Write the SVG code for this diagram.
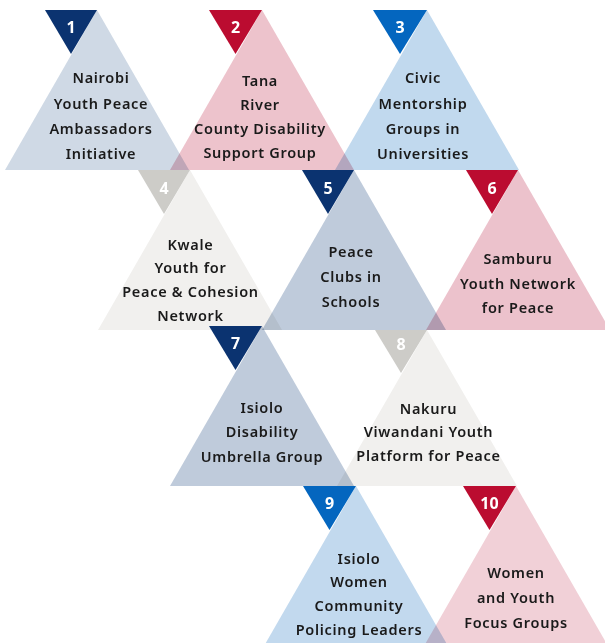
<svg xmlns="http://www.w3.org/2000/svg" width="605" height="643" viewBox="0 0 605 643">
<style>
.tri{mix-blend-mode:multiply}
.num{font-family:"Noto Sans","Liberation Sans",sans-serif;font-weight:700;font-size:16px;fill:#ffffff;text-anchor:middle}
.lbl{font-family:"Noto Sans","Liberation Sans",sans-serif;font-weight:600;font-size:14.5px;fill:#1a1a1a;text-anchor:middle;letter-spacing:0.7px}
.navy{fill:#0b3370}.red{fill:#bb0c30}.blue{fill:#0466bf}.grey{fill:#cdccc8}
</style>
<rect width="605" height="643" fill="#ffffff"/>
<g id="connectors"/>
<g id="node1">
<polygon class="tri" points="97,10 5,170 189,170" fill="#cfd9e5"/>
<polygon class="navy" points="45,10 97,10 71,54"/>
<text class="num" x="71" y="32.5">1</text>
<text class="lbl" x="101" y="83">Nairobi</text>
<text class="lbl" x="101" y="109">Youth Peace</text>
<text class="lbl" x="101" y="134">Ambassadors</text>
<text class="lbl" x="101" y="159">Initiative</text>
</g>
<g id="node2">
<polygon class="tri" points="262,10 170,170 354,170" fill="#edc3cc"/>
<polygon class="red" points="209,10 262,10 235.5,54"/>
<text class="num" x="235.5" y="32.5">2</text>
<text class="lbl" x="260" y="85.5">Tana</text>
<text class="lbl" x="260" y="109.5">River</text>
<text class="lbl" x="260" y="133.5">County Disability</text>
<text class="lbl" x="260" y="158">Support Group</text>
</g>
<g id="node3">
<polygon class="tri" points="427,10 335,170 519,170" fill="#c1d9ee"/>
<polygon class="blue" points="373,10 427,10 400,54"/>
<text class="num" x="400" y="32.5">3</text>
<text class="lbl" x="423" y="83">Civic</text>
<text class="lbl" x="423" y="109">Mentorship</text>
<text class="lbl" x="423" y="134">Groups in</text>
<text class="lbl" x="423" y="159">Universities</text>
</g>
<g id="node4">
<polygon class="tri" points="190,170 98,330 282,330" fill="#f1f0ee"/>
<polygon class="grey" points="138,170 190,170 164,214"/>
<text class="num" x="164" y="193.5">4</text>
<text class="lbl" x="190.5" y="250">Kwale</text>
<text class="lbl" x="190.5" y="273">Youth for</text>
<text class="lbl" x="190.5" y="297">Peace &amp; Cohesion</text>
<text class="lbl" x="190.5" y="321">Network</text>
</g>
<g id="node5">
<polygon class="tri" points="354,170 262,330 446,330" fill="#bfcbdb"/>
<polygon class="navy" points="302,170 354,170 328,214"/>
<text class="num" x="328" y="193.5">5</text>
<text class="lbl" x="351" y="257">Peace</text>
<text class="lbl" x="351" y="282">Clubs in</text>
<text class="lbl" x="351" y="307">Schools</text>
</g>
<g id="node6">
<polygon class="tri" points="518,170 426,330 610,330" fill="#ecc2cc"/>
<polygon class="red" points="466,170 518,170 492,214"/>
<text class="num" x="492" y="193.5">6</text>
<text class="lbl" x="518" y="264">Samburu</text>
<text class="lbl" x="518" y="289">Youth Network</text>
<text class="lbl" x="518" y="313">for Peace</text>
</g>
<g id="node7">
<polygon class="tri" points="262,326 170,486 354,486" fill="#bfcbdb"/>
<polygon class="navy" points="209,326 262,326 235.5,370"/>
<text class="num" x="235.5" y="348.5">7</text>
<text class="lbl" x="262" y="413">Isiolo</text>
<text class="lbl" x="262" y="437">Disability</text>
<text class="lbl" x="262" y="462">Umbrella Group</text>
</g>
<g id="node8">
<polygon class="tri" points="427,330 337,486 517,486" fill="#f1f0ee"/>
<polygon class="grey" points="375,330 427,330 401,373"/>
<text class="num" x="401" y="349.5">8</text>
<text class="lbl" x="428.5" y="414">Nakuru</text>
<text class="lbl" x="428.5" y="437">Viwandani Youth</text>
<text class="lbl" x="428.5" y="461">Platform for Peace</text>
</g>
<g id="node9">
<polygon class="tri" points="356,486 264,646 448,646" fill="#c2d9ee"/>
<polygon class="blue" points="303,486 356,486 329.5,530"/>
<text class="num" x="329.5" y="508.5">9</text>
<text class="lbl" x="359" y="564">Isiolo</text>
<text class="lbl" x="359" y="587">Women</text>
<text class="lbl" x="359" y="611">Community</text>
<text class="lbl" x="359" y="635">Policing Leaders</text>
</g>
<g id="node10">
<polygon class="tri" points="516,486 424,646 608,646" fill="#f1d0d7"/>
<polygon class="red" points="463,486 516,486 489.5,530"/>
<text class="num" x="489.5" y="508.5">10</text>
<text class="lbl" x="516" y="578">Women</text>
<text class="lbl" x="516" y="603">and Youth</text>
<text class="lbl" x="516" y="628">Focus Groups</text>
</g>
</svg>
